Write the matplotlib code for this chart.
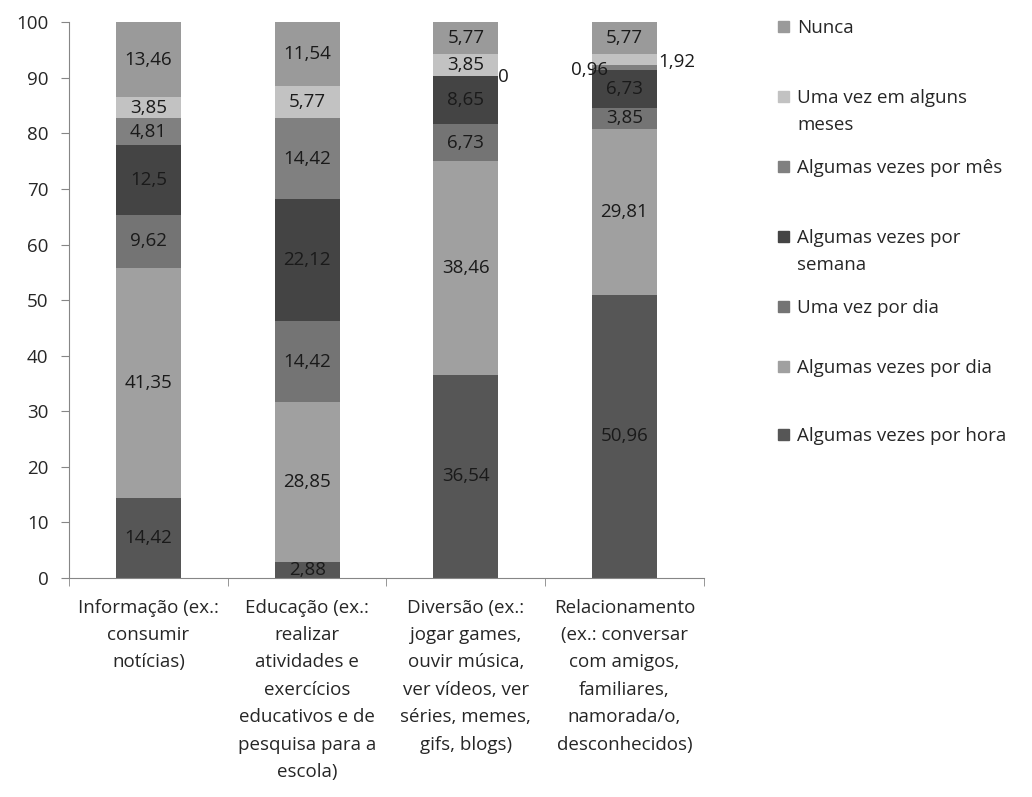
import numpy as np
import matplotlib
matplotlib.use('Agg')
import matplotlib.pyplot as plt
from matplotlib.patches import Rectangle

plt.rcParams['font.family'] = ['Open Sans', 'DejaVu Sans']

# Categorias (finalidade do uso)
categorias = [
    'Informação (ex.:\nconsumir\nnotícias)',
    'Educação (ex.:\nrealizar\natividades e\nexercícios\neducativos e de\npesquisa para a\nescola)',
    'Diversão (ex.:\njogar games,\nouvir música,\nver vídeos, ver\nséries, memes,\ngifs, blogs)',
    'Relacionamento\n(ex.: conversar\ncom amigos,\nfamiliares,\nnamorada/o,\ndesconhecidos)',
]

# Séries, de baixo para cima na pilha
series = [
    'Algumas vezes por hora',
    'Algumas vezes por dia',
    'Uma vez por dia',
    'Algumas vezes por\nsemana',
    'Algumas vezes por mês',
    'Uma vez em alguns\nmeses',
    'Nunca',
]
por_hora = [14.42, 2.88, 36.54, 50.96]
por_dia = [41.35, 28.85, 38.46, 29.81]
uma_dia = [9.62, 14.42, 6.73, 3.85]
por_semana = [12.5, 22.12, 8.65, 6.73]
por_mes = [4.81, 14.42, 0, 0.96]
alguns_meses = [3.85, 5.77, 3.85, 1.92]
nunca = [13.46, 11.54, 5.77, 5.77]

valores = [por_hora, por_dia, uma_dia, por_semana, por_mes, alguns_meses, nunca]
cores = ['#565656', '#a0a0a0', '#747474', '#444444', '#808080', '#c2c2c2', '#9a9a9a']

# rótulos pequenos deslocados para fora da barra: (serie, categoria) -> (dx, dy) em pontos
deslocados = {
    (4, 2): (27, -1),
    (4, 3): (-25, -2),
    (5, 3): (38, -2),
}

fs = 13.5

fig = plt.figure(figsize=(10.32, 7.97), dpi=100)
ax = fig.add_axes([0.067, 0.275, 0.615, 0.697])

x = np.arange(len(categorias))
base = np.zeros(len(categorias))
largura = 0.41
for i, (vals, cor) in enumerate(zip(valores, cores)):
    vals = np.array(vals)
    ax.bar(x, vals, largura, bottom=base, color=cor, edgecolor='none', zorder=2)
    for j, v in enumerate(vals):
        texto = f'{v:g}'.replace('.', ',')
        yc = base[j] + v / 2
        if (i, j) in deslocados:
            dx, dy = deslocados[(i, j)]
            ax.annotate(texto, (x[j], yc), xytext=(dx, dy), textcoords='offset points',
                        ha='center', va='center', fontsize=fs, color='#1a1a1a', zorder=3)
        else:
            ax.text(x[j], yc, texto, ha='center', va='center', fontsize=fs,
                    color='#1a1a1a', zorder=3)
    base += vals

ax.set_xlim(-0.5, 3.5)
ax.set_ylim(0, 100)
ax.set_yticks(np.arange(0, 101, 10))
ax.set_xticks(x)
ax.set_xticklabels(categorias, fontsize=fs, color='#262626', linespacing=1.67)
ax.set_xticks(np.arange(-0.5, 4, 1), minor=True)
ax.tick_params(axis='x', which='major', length=0, pad=15)
ax.tick_params(axis='x', which='minor', length=6, color='#868686')
ax.tick_params(axis='y', length=6, color='#868686', labelsize=fs, labelcolor='#262626', pad=9)
for lado in ['top', 'right']:
    ax.spines[lado].set_visible(False)
for lado in ['left', 'bottom']:
    ax.spines[lado].set_color('#868686')

# legenda à direita, na ordem inversa da pilha
alturas_px = [27, 97, 167, 237, 307, 367, 435]
for k, (nome, cor) in enumerate(zip(series[::-1], cores[::-1])):
    yf = 1 - alturas_px[k] / 797
    fig.add_artist(Rectangle((778 / 1032, yf - 5 / 797), 11 / 1032, 11 / 797,
                             transform=fig.transFigure, color=cor))
    fig.text(797 / 1032, yf + 8 / 797, nome, ha='left', va='top', fontsize=fs,
             color='#262626', linespacing=1.67)

fig.savefig('out.png', dpi=100)
